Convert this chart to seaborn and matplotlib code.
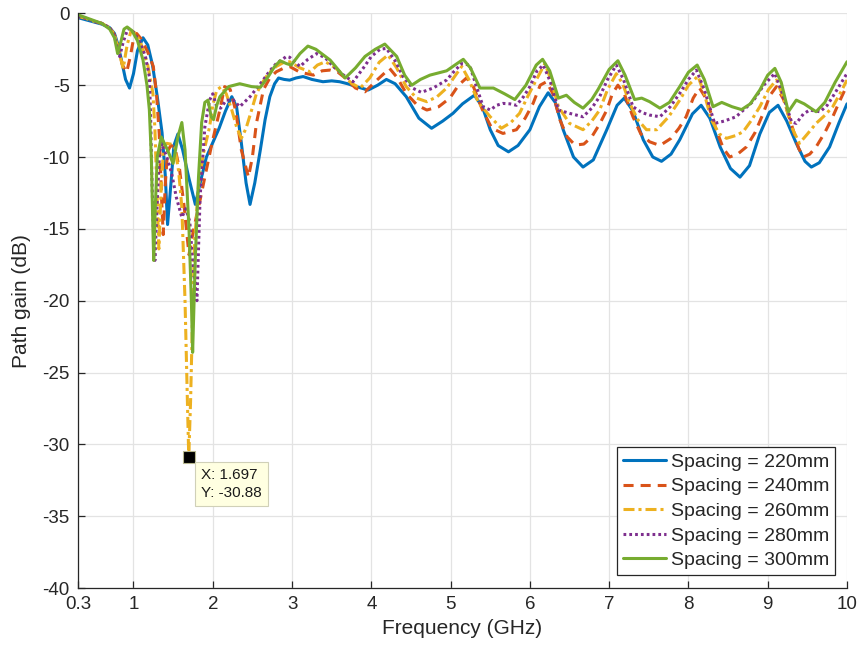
import matplotlib
matplotlib.use("Agg")
import matplotlib.pyplot as plt
import seaborn as sns
import pandas as pd

# ---------------- data ----------------
freq_220 = [0.3,0.4,0.5,0.6,0.7,0.76,0.8,0.85,0.9,0.95,
            1.0,1.05,1.12,1.18,1.24,1.30,1.36,1.40,1.43,1.47,
            1.51,1.56,1.62,1.70,1.78,1.85,1.92,2.0,2.08,2.16,
            2.24,2.30,2.36,2.42,2.47,2.53,2.60,2.66,2.72,2.78,
            2.83,2.90,2.97,3.05,3.14,3.25,3.39,3.5,3.6,3.7,
            3.81,3.96,4.08,4.19,4.3,4.44,4.6,4.76,4.9,5.03,
            5.15,5.3,5.4,5.5,5.6,5.73,5.85,6.0,6.12,6.23,
            6.32,6.42,6.55,6.67,6.8,6.97,7.1,7.19,7.3,7.43,
            7.55,7.66,7.78,7.89,8.05,8.16,8.27,8.4,8.53,8.65,
            8.77,8.9,9.02,9.13,9.24,9.36,9.47,9.55,9.65,9.78,
            9.9,10.0]
gain_220 = [-0.3,-0.45,-0.6,-0.75,-1.0,-1.4,-2.1,-3.3,-4.6,-5.2,
            -4.2,-2.6,-1.7,-2.2,-3.6,-5.8,-8.3,-11.2,-14.7,-12.0,
            -9.2,-8.4,-9.5,-11.5,-13.3,-11.6,-10.0,-9.0,-8.0,-6.8,
            -5.8,-6.5,-9.0,-11.8,-13.3,-11.8,-9.5,-7.4,-5.8,-4.9,
            -4.5,-4.6,-4.65,-4.5,-4.4,-4.6,-4.76,-4.7,-4.76,-4.9,
            -5.1,-5.34,-5.0,-4.6,-4.9,-5.8,-7.3,-8.0,-7.5,-6.96,
            -6.3,-5.7,-6.5,-8.1,-9.2,-9.64,-9.2,-8.1,-6.5,-5.53,
            -6.2,-8.1,-10.0,-10.7,-10.2,-8.1,-6.4,-5.9,-6.8,-8.8,
            -10.0,-10.3,-9.8,-8.8,-7.0,-6.4,-7.3,-9.3,-10.8,-11.4,
            -10.6,-8.4,-6.9,-6.4,-7.5,-9.05,-10.3,-10.7,-10.4,-9.3,
            -7.6,-6.3]

freq_240 = [0.3,0.4,0.5,0.6,0.7,0.76,0.8,0.86,0.914,0.96,
            1.0,1.04,1.1,1.18,1.25,1.29,1.325,1.355,1.375,1.40,
            1.43,1.47,1.52,1.58,1.64,1.70,1.76,1.84,1.90,1.99,
            2.09,2.15,2.22,2.29,2.36,2.45,2.50,2.55,2.64,2.72,
            2.8,2.9,2.97,3.1,3.27,3.38,3.48,3.58,3.67,3.8,
            3.92,4.08,4.23,4.33,4.44,4.58,4.7,4.85,4.99,5.1,
            5.2,5.28,5.4,5.52,5.66,5.83,5.94,6.04,6.13,6.21,
            6.29,6.38,6.47,6.57,6.68,6.78,6.88,6.97,7.04,7.11,
            7.19,7.3,7.4,7.51,7.64,7.78,7.88,7.97,8.06,8.14,
            8.23,8.35,8.44,8.52,8.62,8.73,8.84,8.94,9.03,9.11,
            9.2,9.32,9.39,9.45,9.53,9.61,9.72,9.82,9.9,10.0]
gain_240 = [-0.2,-0.35,-0.55,-0.7,-1.0,-1.5,-2.2,-3.6,-4.1,-3.0,
            -1.8,-1.4,-1.8,-2.7,-3.7,-5.6,-8.4,-13.0,-15.4,-12.0,
            -9.6,-9.2,-9.3,-10.8,-13.5,-16.8,-15.0,-13.0,-11.4,-9.05,
            -6.7,-5.1,-5.3,-6.8,-9.5,-11.4,-10.0,-7.66,-5.3,-4.5,
            -4.07,-3.8,-3.7,-4.1,-4.3,-4.0,-3.95,-4.1,-4.5,-5.2,
            -5.46,-4.6,-3.83,-4.5,-5.57,-6.4,-6.73,-6.5,-5.9,-5.0,
            -4.5,-5.0,-6.7,-8.0,-8.36,-8.1,-7.3,-6.27,-5.0,-4.76,
            -5.6,-7.43,-8.6,-9.17,-9.1,-8.6,-7.7,-6.73,-5.6,-5.0,
            -5.6,-7.2,-8.4,-8.94,-9.2,-8.7,-8.0,-7.2,-5.9,-5.2,
            -6.0,-8.1,-9.4,-10.0,-9.8,-9.3,-8.3,-7.0,-5.7,-5.1,
            -6.0,-8.1,-9.4,-10.0,-9.8,-9.3,-8.3,-7.2,-6.2,-5.0]

freq_260 = [0.3,0.4,0.5,0.6,0.7,0.76,0.8,0.87,0.92,0.97,
            1.03,1.1,1.18,1.245,1.27,1.29,1.32,1.35,1.38,1.42,
            1.47,1.52,1.57,1.61,1.65,1.68,1.697,1.72,1.745,1.77,
            1.82,1.88,1.96,2.0,2.05,2.11,2.17,2.24,2.30,2.36,
            2.42,2.49,2.55,2.62,2.7,2.8,2.9,2.97,3.1,3.23,
            3.32,3.42,3.55,3.65,3.76,3.86,3.98,4.1,4.21,4.32,
            4.44,4.57,4.7,4.83,4.95,5.05,5.14,5.23,5.35,5.5,
            5.64,5.76,5.87,5.98,6.08,6.19,6.27,6.36,6.5,6.67,
            6.78,6.88,6.98,7.09,7.17,7.26,7.36,7.47,7.6,7.75,
            7.89,8.0,8.12,8.2,8.29,8.39,8.48,8.6,8.69,8.8,
            8.9,9.01,9.11,9.2,9.3,9.4,9.5,9.61,9.72,9.82,
            9.92,10.0]
gain_260 = [-0.2,-0.35,-0.55,-0.7,-1.0,-1.5,-2.3,-3.83,-2.2,-1.2,
            -1.4,-2.2,-3.6,-5.57,-8.0,-11.5,-16.4,-12.0,-9.3,-9.05,
            -9.1,-9.3,-11.0,-13.5,-20.0,-27.0,-30.88,-27.0,-21.0,-16.0,
            -12.0,-9.8,-7.9,-6.4,-5.34,-5.1,-5.6,-6.73,-7.9,-8.7,
            -8.0,-6.73,-5.6,-4.87,-4.2,-3.7,-3.4,-3.37,-3.8,-4.07,
            -3.6,-3.37,-3.8,-4.4,-4.9,-5.2,-4.5,-3.4,-2.9,-3.8,
            -5.1,-5.9,-6.15,-5.8,-5.2,-4.4,-3.7,-4.6,-6.2,-7.2,
            -8.0,-7.6,-6.96,-5.7,-4.64,-3.5,-4.7,-6.5,-7.66,-8.1,
            -7.5,-6.73,-5.3,-4.2,-4.9,-6.27,-7.4,-8.1,-8.1,-7.2,
            -6.04,-5.0,-4.37,-5.6,-7.43,-8.4,-8.7,-8.5,-8.24,-7.4,
            -6.5,-5.3,-4.64,-5.9,-7.9,-9.05,-8.4,-7.66,-7.1,-6.5,
            -5.5,-4.64]

freq_280 = [0.3,0.4,0.5,0.6,0.7,0.76,0.825,0.87,0.93,1.0,
            1.08,1.15,1.2,1.215,1.23,1.25,1.27,1.30,1.33,1.355,
            1.42,1.48,1.54,1.61,1.66,1.71,1.75,1.80,1.84,1.90,
            1.96,2.0,2.05,2.1,2.17,2.26,2.34,2.47,2.62,2.72,
            2.8,2.93,2.97,3.1,3.2,3.31,3.42,3.52,3.65,3.77,
            3.9,4.0,4.11,4.19,4.3,4.4,4.52,4.63,4.78,4.95,
            5.05,5.14,5.24,5.32,5.41,5.5,5.58,5.66,5.75,5.83,
            5.92,6.0,6.09,6.17,6.26,6.36,6.5,6.67,6.78,6.88,
            6.98,7.09,7.18,7.3,7.41,7.51,7.64,7.77,7.89,8.0,
            8.1,8.2,8.33,8.45,8.6,8.7,8.81,8.95,9.09,9.18,
            9.3,9.36,9.45,9.53,9.6,9.66,9.75,9.82,9.92,10.0]
gain_280 = [-0.2,-0.35,-0.55,-0.7,-1.0,-1.6,-3.0,-2.0,-1.05,-1.3,
            -2.0,-3.0,-4.4,-7.0,-11.0,-15.0,-17.2,-13.0,-9.6,-9.05,
            -10.0,-11.1,-12.8,-14.2,-13.6,-14.5,-17.6,-20.0,-12.8,-7.9,
            -6.04,-5.6,-6.5,-6.6,-6.04,-6.04,-6.5,-5.8,-4.76,-4.0,
            -3.5,-3.0,-3.06,-3.7,-3.2,-2.8,-3.1,-3.7,-4.3,-4.76,
            -3.8,-3.0,-2.5,-2.44,-3.3,-4.4,-5.2,-5.5,-5.2,-4.64,
            -4.0,-3.5,-3.6,-5.0,-6.5,-6.73,-6.4,-6.27,-6.3,-6.4,
            -5.8,-5.1,-4.0,-3.6,-4.8,-6.73,-6.96,-7.2,-6.6,-5.8,
            -4.6,-3.6,-4.6,-6.5,-6.9,-7.08,-7.2,-6.5,-5.57,-4.6,
            -3.95,-5.3,-7.66,-7.5,-7.2,-6.7,-6.15,-5.0,-4.18,-5.5,
            -7.55,-7.66,-7.0,-6.73,-6.8,-6.85,-6.4,-5.8,-4.9,-4.18]

freq_300 = [0.3,0.4,0.5,0.6,0.7,0.76,0.80,0.84,0.88,0.92,
            0.98,1.05,1.12,1.17,1.20,1.225,1.245,1.255,1.275,1.30,
            1.35,1.42,1.50,1.56,1.61,1.65,1.70,1.73,1.746,1.78,
            1.82,1.86,1.90,1.94,1.98,2.01,2.05,2.09,2.2,2.34,
            2.49,2.6,2.70,2.78,2.85,2.93,2.99,3.1,3.2,3.3,
            3.48,3.67,3.8,3.92,4.05,4.17,4.32,4.42,4.51,4.62,
            4.74,4.95,5.08,5.16,5.25,5.37,5.54,5.68,5.81,5.95,
            6.08,6.16,6.25,6.36,6.46,6.56,6.67,6.78,6.86,7.0,
            7.11,7.2,7.32,7.41,7.51,7.64,7.76,7.89,8.0,8.11,
            8.2,8.31,8.42,8.55,8.67,8.78,8.9,9.0,9.09,9.17,
            9.26,9.36,9.46,9.61,9.72,9.85,10.0]
gain_300 = [-0.1,-0.3,-0.5,-0.7,-1.1,-1.7,-2.8,-2.0,-1.1,-0.95,
            -1.2,-1.9,-3.25,-5.0,-6.7,-10.0,-15.0,-17.2,-13.5,-10.0,
            -8.6,-9.4,-10.45,-8.6,-7.6,-9.5,-15.0,-20.0,-23.6,-17.0,
            -11.4,-7.6,-6.2,-6.04,-7.2,-7.4,-6.4,-5.8,-5.1,-4.9,
            -5.1,-5.15,-4.4,-3.7,-3.3,-3.5,-3.6,-2.8,-2.28,-2.5,
            -3.25,-4.5,-3.8,-3.0,-2.5,-2.14,-3.0,-4.3,-5.0,-4.6,
            -4.3,-4.0,-3.5,-3.2,-3.8,-5.2,-5.2,-5.6,-6.0,-5.0,
            -3.6,-3.2,-4.0,-5.9,-5.7,-6.2,-6.6,-6.0,-5.3,-3.9,
            -3.3,-4.3,-6.0,-5.9,-6.15,-6.6,-6.2,-5.1,-4.1,-3.6,
            -4.6,-6.5,-6.2,-6.5,-6.7,-6.3,-5.34,-4.3,-3.83,-4.8,
            -6.85,-6.04,-6.3,-6.85,-6.2,-4.8,-3.37]

series_labels = ["Spacing = 220mm", "Spacing = 240mm", "Spacing = 260mm",
                 "Spacing = 280mm", "Spacing = 300mm"]
series_freqs = [freq_220, freq_240, freq_260, freq_280, freq_300]
series_gains = [gain_220, gain_240, gain_260, gain_280, gain_300]

x_ticks = [0.3, 1, 2, 3, 4, 5, 6, 7, 8, 9, 10]
x_tick_labels = ["0.3", "1", "2", "3", "4", "5", "6", "7", "8", "9", "10"]
y_ticks = [0, -5, -10, -15, -20, -25, -30, -35, -40]

marker_x = 1.697
marker_y = -30.88

# ---------------- style ----------------
sns.set_theme(style="whitegrid")
plt.rcParams['font.family'] = ['Liberation Sans', 'DejaVu Sans']
plt.rcParams['axes.unicode_minus'] = False

colors = ["#0072BD", "#D95319", "#EDB120", "#7E2F8E", "#77AC30"]
styles = ["-", (0, (3.3, 2.3)), (0, (3.6, 1.3, 1.0, 1.3)), (0, (0.9, 1.0)), "-"]
widths = [2.2, 2.2, 2.2, 2.2, 2.2]

fig = plt.figure(figsize=(8.58, 6.57), dpi=100)
ax = fig.add_axes([0.0909, 0.105, 0.8963, 0.8747])
ax.set_facecolor("white")

for lab, fx, gy, c, ls, lw in zip(series_labels, series_freqs, series_gains,
                                  colors, styles, widths):
    df = pd.DataFrame({"freq": fx, "gain": gy})
    sns.lineplot(data=df, x="freq", y="gain", ax=ax, color=c, linestyle=ls,
                 linewidth=lw, label=lab, estimator=None, sort=False,
                 solid_joinstyle="round", dash_joinstyle="round")

ax.set_xlim(0.3, 10)
ax.set_ylim(-40, 0)
ax.set_xticks(x_ticks)
ax.set_xticklabels(x_tick_labels)
ax.set_yticks(y_ticks)

ax.grid(True, color="#E3E3E3", linewidth=0.9)
for side in ["top", "right"]:
    ax.spines[side].set_visible(False)
for side in ["left", "bottom"]:
    ax.spines[side].set_visible(True)
    ax.spines[side].set_color("#262626")
    ax.spines[side].set_linewidth(0.9)
ax.tick_params(axis="both", direction="in", length=5, width=0.9,
               colors="#262626", labelsize=13.5, labelcolor="#262626",
               left=True, bottom=True, pad=6)

ax.set_xlabel("Frequency (GHz)", fontsize=15, color="#262626", labelpad=4)
ax.set_ylabel("Path gain (dB)", fontsize=15, color="#262626", labelpad=8)

# data tip
ax.plot([marker_x], [marker_y], marker="s", markersize=8, color="black",
        markeredgecolor="#B8B890", markeredgewidth=0.8, zorder=5)
ax.annotate("X: %.3f\nY: %.2f" % (marker_x, marker_y), xy=(marker_x, marker_y),
            xytext=(9, -8), textcoords="offset points", ha="left", va="top",
            fontsize=11, color="#1a1a1a", linespacing=1.35,
            bbox=dict(boxstyle="square,pad=0.4", facecolor="#FFFFE1",
                      edgecolor="#D0D0B8", linewidth=0.8), zorder=6)

leg = ax.legend(loc="lower right", bbox_to_anchor=(0.984, 0.0226), fontsize=14,
                frameon=True, fancybox=False, framealpha=1, edgecolor="#262626",
                handlelength=2.2, handletextpad=0.25, borderpad=0.3,
                labelspacing=0.36, borderaxespad=0.0)
leg.get_frame().set_linewidth(0.9)

fig.savefig("out.png", dpi=100, facecolor="white")
